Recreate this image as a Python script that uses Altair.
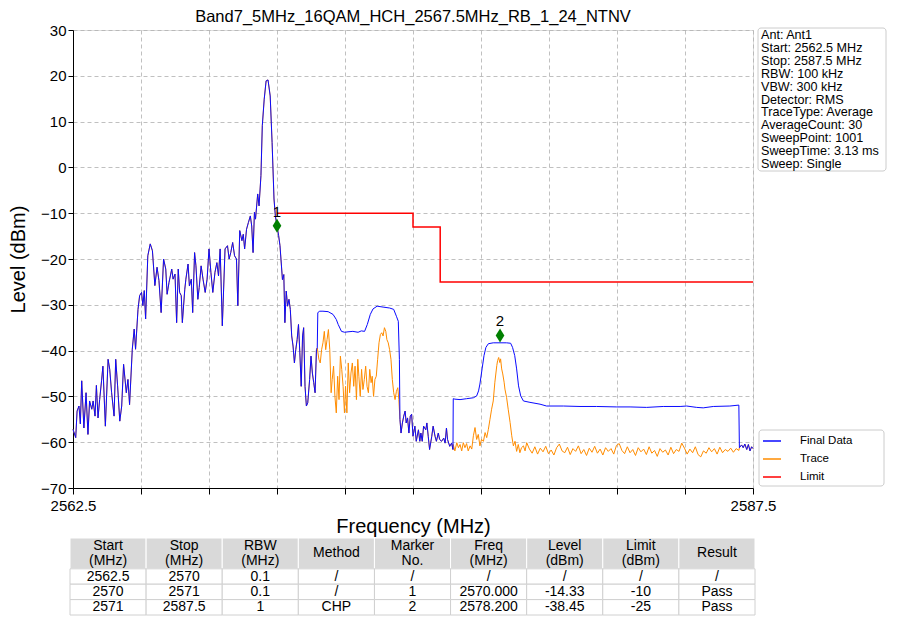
import altair as alt
import pandas as pd

# ---------------- data ----------------
base_freq = [2562.50, 2562.60, 2562.65, 2562.72, 2562.77, 2562.82, 2562.90, 2562.98, 2563.05, 2563.11,
             2563.19, 2563.24, 2563.31, 2563.36, 2563.42, 2563.48, 2563.55, 2563.60, 2563.69, 2563.79,
             2563.85, 2563.92, 2564.01, 2564.07, 2564.14, 2564.22, 2564.29, 2564.36, 2564.46, 2564.52,
             2564.58, 2564.68, 2564.75, 2564.80, 2564.89, 2564.95, 2565.02, 2565.07, 2565.12, 2565.17,
             2565.25, 2565.34, 2565.42, 2565.51, 2565.59, 2565.66, 2565.74, 2565.83, 2565.91, 2565.96,
             2566.03, 2566.13, 2566.18, 2566.25, 2566.31, 2566.37, 2566.42, 2566.48, 2566.52, 2566.61,
             2566.65, 2566.73, 2566.78, 2566.85, 2566.90, 2566.97, 2567.02, 2567.09, 2567.14, 2567.21,
             2567.28, 2567.36, 2567.43, 2567.50, 2567.57, 2567.64, 2567.72, 2567.79, 2567.85, 2567.91,
             2567.99, 2568.09, 2568.18, 2568.24, 2568.30, 2568.37, 2568.44, 2568.51, 2568.56, 2568.63,
             2568.71, 2568.76, 2568.81, 2568.88, 2568.95, 2569.02, 2569.07, 2569.12, 2569.17, 2569.21,
             2569.29, 2569.34, 2569.41, 2569.46, 2569.53, 2569.60, 2569.67, 2569.75, 2569.82, 2569.89,
             2569.94, 2570.00, 2570.06, 2570.11, 2570.20, 2570.25, 2570.29, 2570.34, 2570.39, 2570.44,
             2570.49, 2570.54, 2570.59, 2570.64, 2570.69, 2570.74, 2570.79, 2570.84, 2570.89, 2570.94,
             2570.98, 2571.03, 2571.08, 2571.13, 2571.20, 2571.25, 2571.30, 2571.35, 2571.40, 2571.45,
             2571.48]
base_level = [-57.2, -59.0, -53.2, -52.1, -56.0, -46.6, -56.9, -49.2, -58.3, -51.0,
              -52.8, -51.0, -54.3, -47.6, -54.7, -50.7, -46.6, -43.4, -56.5, -41.9,
              -44.1, -49.2, -54.3, -41.9, -47.7, -55.4, -52.1, -43.0, -49.2, -46.3,
              -51.8, -39.7, -35.3, -39.7, -31.0, -28.0, -27.3, -30.2, -26.9, -33.1,
              -19.3, -16.7, -18.2, -25.8, -21.8, -24.7, -31.7, -20.0, -22.2, -27.7,
              -25.1, -22.2, -24.4, -23.3, -33.9, -22.2, -27.3, -28.0, -33.9, -26.6,
              -24.4, -21.1, -25.9, -24.4, -31.7, -18.6, -21.5, -28.8, -26.2, -21.5,
              -24.4, -27.3, -24.4, -17.8, -22.9, -27.3, -22.9, -20.8, -23.7, -17.8,
              -34.6, -17.8, -17.1, -20.0, -18.6, -16.4, -19.3, -20.0, -30.2, -13.8,
              -16.0, -14.6, -17.8, -13.5, -12.0, -10.6, -12.8, -18.6, -9.8, -11.3,
              -5.8, -8.4, -1.8, 9.1, 14.9, 18.9, 19.1, 15.6, 5.4, -6.9,
              -10.6, -12.8, -14.9, -17.1, -24.5, -23.4, -33.9, -27.0, -30.3, -28.8,
              -31.0, -36.8, -39.0, -42.7, -39.8, -37.6, -34.3, -40.5, -47.8, -36.8,
              -35.0, -47.8, -52.1, -51.4, -46.3, -41.2, -44.9, -47.0, -49.2, -39.8,
              -39.4]

final_mid_freq = [2571.50, 2571.57, 2571.69, 2571.88, 2572.06, 2572.18, 2572.25, 2572.37, 2572.49, 2572.61,
                  2572.79, 2572.98, 2573.10, 2573.22, 2573.32, 2573.43, 2573.53, 2573.68, 2573.90, 2574.14,
                  2574.29, 2574.39, 2574.46, 2574.50]
final_mid_level = [-31.7, -31.4, -31.4, -31.5, -32.1, -33.2, -34.3, -35.8, -36.0, -35.9,
                   -35.8, -36.0, -35.7, -35.8, -34.3, -32.1, -30.9, -30.3, -30.5, -30.7,
                   -31.0, -32.5, -33.6, -41.9]

trace_mid_freq = [2571.54, 2571.59, 2571.64, 2571.69, 2571.74, 2571.79, 2571.84, 2571.89, 2571.94, 2571.99,
                  2572.03, 2572.08, 2572.13, 2572.18, 2572.23, 2572.28, 2572.33, 2572.38, 2572.43, 2572.48,
                  2572.52, 2572.57, 2572.62, 2572.67, 2572.72, 2572.77, 2572.82, 2572.87, 2572.92, 2572.97,
                  2573.01, 2573.06, 2573.11, 2573.16, 2573.21, 2573.26, 2573.31, 2573.36, 2573.41, 2573.46,
                  2573.50, 2573.55, 2573.60, 2573.65, 2573.70, 2573.75, 2573.80, 2573.85, 2573.90, 2573.95,
                  2574.00, 2574.04, 2574.09, 2574.14, 2574.19, 2574.24, 2574.29, 2574.34, 2574.39, 2574.44,
                  2574.48]
trace_mid_level = [-41.9, -42.7, -39.8, -38.3, -35.8, -39.8, -37.6, -35.4, -39.8, -49.2,
                   -46.3, -43.4, -50.0, -53.6, -45.6, -50.7, -41.2, -44.1, -47.8, -53.6,
                   -47.8, -53.6, -42.7, -49.2, -44.9, -42.7, -47.8, -43.4, -50.7, -41.9,
                   -45.6, -50.0, -44.1, -48.5, -46.3, -43.4, -47.8, -49.2, -44.1, -47.0,
                   -45.6, -50.0, -46.3, -45.6, -41.9, -38.3, -36.5, -36.1, -36.8, -35.0,
                   -35.8, -37.6, -38.3, -39.8, -41.9, -46.3, -49.2, -50.7, -48.9, -48.1,
                   -50.7]

gap_freq = [2574.52, 2574.56, 2574.61, 2574.66, 2574.71, 2574.75, 2574.80, 2574.85, 2574.90, 2574.95,
            2575.00, 2575.07, 2575.12, 2575.20, 2575.25, 2575.29, 2575.34, 2575.39, 2575.47, 2575.51,
            2575.56, 2575.61, 2575.69, 2575.74, 2575.81, 2575.86, 2575.93, 2575.98, 2576.05, 2576.13,
            2576.18, 2576.23, 2576.27, 2576.35, 2576.42, 2576.47]
gap_level = [-55.0, -58.0, -55.8, -54.3, -53.2, -55.8, -54.7, -58.0, -54.3, -53.9,
             -58.7, -56.5, -59.8, -57.3, -59.8, -58.0, -59.8, -56.5, -57.3, -55.8,
             -58.7, -61.6, -58.7, -56.5, -58.7, -59.8, -58.0, -59.4, -59.8, -59.1,
             -60.2, -56.9, -59.4, -60.9, -60.2, -61.6]

final_right_freq = [2576.48, 2576.54, 2576.73, 2576.97, 2577.22, 2577.34, 2577.41, 2577.46, 2577.54, 2577.61,
                    2577.68, 2577.77, 2577.95, 2578.20, 2578.44, 2578.59, 2578.66, 2578.74, 2578.81, 2578.88,
                    2578.96, 2579.06, 2579.30, 2579.67, 2579.91, 2580.53, 2581.14, 2581.75, 2582.49, 2582.98,
                    2583.59, 2584.20, 2584.82, 2585.06, 2585.43, 2585.67, 2586.04, 2586.65, 2586.98]
final_right_level = [-50.5, -50.6, -50.7, -50.5, -50.3, -49.9, -48.8, -47.3, -44.0, -41.1,
                     -39.3, -38.5, -38.3, -38.3, -38.3, -38.4, -39.3, -41.1, -44.0, -47.7,
                     -49.9, -51.0, -51.3, -51.7, -52.1, -52.1, -52.2, -52.2, -52.3, -52.3,
                     -52.4, -52.2, -52.2, -52.1, -52.4, -52.5, -52.2, -52.1, -51.9]

trace_right_freq = [2576.48, 2576.54, 2576.61, 2576.67, 2576.73, 2576.79, 2576.85, 2576.91, 2576.97, 2577.03,
                    2577.10, 2577.16, 2577.22, 2577.28, 2577.34, 2577.40, 2577.46, 2577.52, 2577.59, 2577.65,
                    2577.71, 2577.77, 2577.83, 2577.89, 2577.95, 2578.01, 2578.08, 2578.11, 2578.15, 2578.19,
                    2578.22, 2578.26, 2578.30, 2578.35, 2578.38, 2578.44, 2578.50, 2578.57, 2578.63, 2578.69,
                    2578.75, 2578.81, 2578.87, 2578.93, 2578.99, 2579.06, 2579.12, 2579.18, 2579.28, 2579.38,
                    2579.48, 2579.58, 2579.68, 2579.78, 2579.88, 2579.98, 2580.08, 2580.18, 2580.28, 2580.38,
                    2580.48, 2580.58, 2580.68, 2580.78, 2580.88, 2580.98, 2581.08, 2581.18, 2581.28, 2581.38,
                    2581.48, 2581.58, 2581.68, 2581.78, 2581.88, 2581.98, 2582.08, 2582.18, 2582.28, 2582.38,
                    2582.48, 2582.58, 2582.68, 2582.78, 2582.88, 2582.98, 2583.08, 2583.18, 2583.28, 2583.38,
                    2583.48, 2583.58, 2583.68, 2583.78, 2583.88, 2583.98, 2584.08, 2584.18, 2584.28, 2584.38,
                    2584.48, 2584.58, 2584.68, 2584.78, 2584.88, 2584.98, 2585.08, 2585.18, 2585.28, 2585.38,
                    2585.48, 2585.58, 2585.68, 2585.78, 2585.88, 2585.98, 2586.08, 2586.18, 2586.28, 2586.38,
                    2586.48, 2586.58, 2586.68, 2586.78, 2586.88, 2586.98]
trace_right_level = [-60.5, -61.9, -60.1, -61.2, -60.5, -61.9, -60.1, -61.2, -60.3, -61.9,
                     -60.8, -61.5, -58.6, -56.8, -59.4, -58.3, -60.8, -59.4, -59.8, -57.9,
                     -59.0, -57.2, -55.0, -52.8, -51.0, -46.9, -43.3, -42.2, -41.5, -42.6,
                     -41.8, -44.0, -45.1, -46.9, -48.4, -50.2, -52.8, -55.7, -58.6, -60.8,
                     -59.8, -62.0, -60.5, -62.3, -61.2, -60.8, -61.9, -60.1, -61.5, -62.4,
                     -61.0, -62.6, -61.3, -62.1, -60.9, -62.5, -61.7, -62.8, -61.2, -60.4,
                     -61.9, -62.3, -61.1, -62.7, -61.4, -62.0, -60.8, -62.5, -61.6, -62.9,
                     -61.3, -62.2, -60.9, -62.4, -61.5, -62.8, -61.2, -62.0, -61.4, -62.6,
                     -60.7, -60.3, -61.8, -62.5, -61.0, -62.3, -61.6, -62.9, -61.2, -62.1,
                     -61.5, -62.7, -61.0, -62.4, -61.8, -63.1, -61.4, -62.2, -61.7, -62.8,
                     -61.1, -62.5, -61.6, -62.0, -60.2, -61.3, -62.6, -61.5, -62.3, -61.0,
                     -62.7, -63.2, -61.9, -62.4, -61.2, -62.1, -61.4, -62.6, -61.1, -62.3,
                     -61.6, -62.0, -61.3, -62.2, -61.4, -61.8]

tail_freq = [2587.00, 2587.08, 2587.14, 2587.20, 2587.27, 2587.33, 2587.39, 2587.45, 2587.50]
tail_level = [-61.2, -60.6, -61.2, -60.4, -61.6, -60.5, -61.9, -61.0, -61.4]

limit_freq = [2570.0, 2575.0, 2575.0, 2576.0, 2576.0, 2587.5]
limit_level = [-10, -10, -13, -13, -25, -25]

marker_freq = [2570.0, 2578.2]
marker_level = [-12.75, -36.7]
marker_label = ["1", "2"]

series_names = ["Final Data", "Trace", "Limit"]
series_colors = ["#0a0aff", "#ff8c00", "#ff0000"]

x_ticks = [2562.5, 2565.0, 2567.5, 2570.0, 2572.5, 2575.0, 2577.5, 2580.0, 2582.5, 2585.0, 2587.5]
y_ticks = [-70, -60, -50, -40, -30, -20, -10, 0, 10, 20, 30]

info_lines = ["Ant: Ant1", "Start: 2562.5 MHz", "Stop: 2587.5 MHz", "RBW: 100 kHz", "VBW: 300 kHz",
              "Detector: RMS", "TraceType: Average", "AverageCount: 30", "SweepPoint: 1001",
              "SweepTime: 3.13 ms", "Sweep: Single"]

table_header = ["Start\n(MHz)", "Stop\n(MHz)", "RBW\n(MHz)", "Method", "Marker\nNo.",
                "Freq\n(MHz)", "Level\n(dBm)", "Limit\n(dBm)", "Result"]
table_rows = [
    ["2562.5", "2570", "0.1", "/", "/", "/", "/", "/", "/"],
    ["2570", "2571", "0.1", "/", "1", "2570.000", "-14.33", "-10", "Pass"],
    ["2571", "2587.5", "1", "CHP", "2", "2578.200", "-38.45", "-25", "Pass"],
]

TITLE = "Band7_5MHz_16QAM_HCH_2567.5MHz_RB_1_24_NTNV"
FONT = "Liberation Sans"
NARROW = "Liberation Sans Narrow, Liberation Sans"

# ---------------- frames ----------------
final_df = pd.DataFrame({
    "freq": base_freq + final_mid_freq + gap_freq + final_right_freq + tail_freq,
    "level": base_level + final_mid_level + gap_level + final_right_level + tail_level,
})
final_df["series"] = "Final Data"
trace_df = pd.DataFrame({
    "freq": base_freq + trace_mid_freq + gap_freq + trace_right_freq + tail_freq,
    "level": base_level + trace_mid_level + gap_level + trace_right_level + tail_level,
})
trace_df["series"] = "Trace"
limit_df = pd.DataFrame({"freq": limit_freq, "level": limit_level})
limit_df["series"] = "Limit"
limit_df["idx"] = range(len(limit_df))
marker_df = pd.DataFrame({"freq": marker_freq, "level": marker_level, "label": marker_label})
info_df = pd.DataFrame({"text": ["\n".join(info_lines)]})

cells = []
for c, h in enumerate(table_header):
    n_lines = h.count("\n") + 1
    # multi-line text is anchored at its first line: shift up by half the extra lines
    cells.append({"x0": c, "x1": c + 1, "xc": c + 0.5, "y0": 0, "y1": 2,
                  "yc": 1 - 0.47 * (n_lines - 1), "text": h, "kind": "header"})
for r, row in enumerate(table_rows):
    for c, t in enumerate(row):
        cells.append({"x0": c, "x1": c + 1, "xc": c + 0.5, "y0": 2 + r, "y1": 3 + r, "yc": 2.5 + r,
                      "text": t, "kind": "body"})
table_df = pd.DataFrame(cells)

# ---------------- main plot ----------------
xscale = alt.Scale(domain=[2562.5, 2587.5], nice=False, zero=False)
yscale = alt.Scale(domain=[-70, 30], nice=False, zero=False)
color_scale = alt.Scale(domain=series_names, range=series_colors)

x_axis = alt.Axis(values=x_ticks, title="Frequency (MHz)",
                  labelExpr="datum.value == 2562.5 || datum.value == 2587.5 ? format(datum.value, '.1f') : ''",
                  labelFontSize=15, labelFont=FONT, labelColor="black", labelFlush=False, labelOverlap=False,
                  labelPadding=4, tickSize=6, tickColor="black", domainColor="black",
                  titleFontSize=20, titleFont=FONT, titleFontWeight="normal", titleColor="black", titlePadding=3,
                  grid=True, gridColor="#b0b0b0", gridDash=[4, 3], gridWidth=0.8)
y_axis = alt.Axis(values=y_ticks, title="Level (dBm)",
                  labelFontSize=15, labelFont=FONT, labelColor="black", labelFlush=False,
                  labelPadding=2, tickSize=5, tickColor="black", domainColor="black",
                  titleFontSize=20, titleFont=FONT, titleFontWeight="normal", titleColor="black", titlePadding=12,
                  grid=True, gridColor="#b0b0b0", gridDash=[4, 3], gridWidth=0.8)

legend = alt.Legend(orient="none", legendX=689, legendY=401, title=None, symbolType="stroke",
                    symbolStrokeWidth=1.5, symbolSize=324, labelFontSize=11.5, labelFont=FONT,
                    labelColor="black", labelOffset=18, rowPadding=2, padding=0)

def line_layer(df, order=False, width=1.0):
    enc = dict(
        x=alt.X("freq:Q", scale=xscale, axis=x_axis),
        y=alt.Y("level:Q", scale=yscale, axis=y_axis),
        color=alt.Color("series:N", scale=color_scale, legend=legend),
    )
    if order:
        enc["order"] = alt.Order("idx:Q")
    return alt.Chart(df).mark_line(strokeWidth=width).encode(**enc)

trace_line = line_layer(trace_df)
final_line = line_layer(final_df)
limit_line = line_layer(limit_df, order=True, width=1.5)

diamond = "M0,-1L0.62,0L0,1L-0.62,0Z"
markers = alt.Chart(marker_df).mark_point(shape=diamond, filled=True, color="#008000", size=196,
                                          opacity=1).encode(
    x=alt.X("freq:Q", scale=xscale), y=alt.Y("level:Q", scale=yscale))
marker_text = alt.Chart(marker_df).mark_text(fontSize=15, font=FONT, color="black", dy=-14,
                                             baseline="middle").encode(
    x=alt.X("freq:Q", scale=xscale), y=alt.Y("level:Q", scale=yscale), text="label:N")

info_box = alt.Chart(info_df).mark_rect(fill="white", stroke="#cccccc", strokeWidth=1, cornerRadius=3).encode(
    x=alt.value(685), x2=alt.value(813), y=alt.value(-2), y2=alt.value(141))
info_text = alt.Chart(info_df).mark_text(align="left", baseline="top", lineBreak="\n", lineHeight=12.9,
                                         fontSize=12.6, font=FONT, color="black").encode(
    x=alt.value(688), y=alt.value(-1), text="text:N")
legend_box = alt.Chart(info_df).mark_rect(fill="white", stroke="#cccccc", strokeWidth=1, cornerRadius=3).encode(
    x=alt.value(686), x2=alt.value(811), y=alt.value(400), y2=alt.value(456))

main = alt.layer(trace_line, final_line, limit_line, markers, marker_text,
                 info_box, info_text, legend_box)

# ---------------- table ----------------
tx = alt.Scale(domain=[0, 9], range=[-3, 682], nice=False, zero=False)
ty = alt.Scale(domain=[0, 5], range=[508, 585], nice=False, zero=False)
header_rect = alt.Chart(table_df).transform_filter("datum.kind == 'header'").mark_rect(
    fill="#d9d9d9", stroke="#ffffff", strokeWidth=1).encode(
    x=alt.X("x0:Q", scale=tx, axis=None), x2="x1:Q",
    y=alt.Y("y0:Q", scale=ty, axis=None), y2="y1:Q")
body_rect = alt.Chart(table_df).transform_filter("datum.kind == 'body'").mark_rect(
    fill="#ffffff", stroke="#d0d0d0", strokeWidth=1).encode(
    x=alt.X("x0:Q", scale=tx, axis=None), x2="x1:Q",
    y=alt.Y("y0:Q", scale=ty, axis=None), y2="y1:Q")
cell_text = alt.Chart(table_df).mark_text(fontSize=14, font=NARROW, color="black", baseline="middle",
                                          align="center", lineBreak="\n", lineHeight=14.5).encode(
    x=alt.X("xc:Q", scale=tx, axis=None), y=alt.Y("yc:Q", scale=ty, axis=None), text="text:N")
table = alt.layer(header_rect, body_rect, cell_text)

chart = alt.layer(main, table).resolve_scale(x="independent", y="independent").properties(
    width=680, height=458,
    padding={"left": 0, "top": 0, "right": 0, "bottom": 0},
    title=alt.Title(TITLE, fontSize=16.5, font=FONT, fontWeight="normal", color="black",
                    offset=-2, frame="group", anchor="middle"),
).configure_view(stroke="black", strokeWidth=1).configure(font=FONT)

chart.save("out.html", embed_options={"renderer": "svg", "actions": False})
